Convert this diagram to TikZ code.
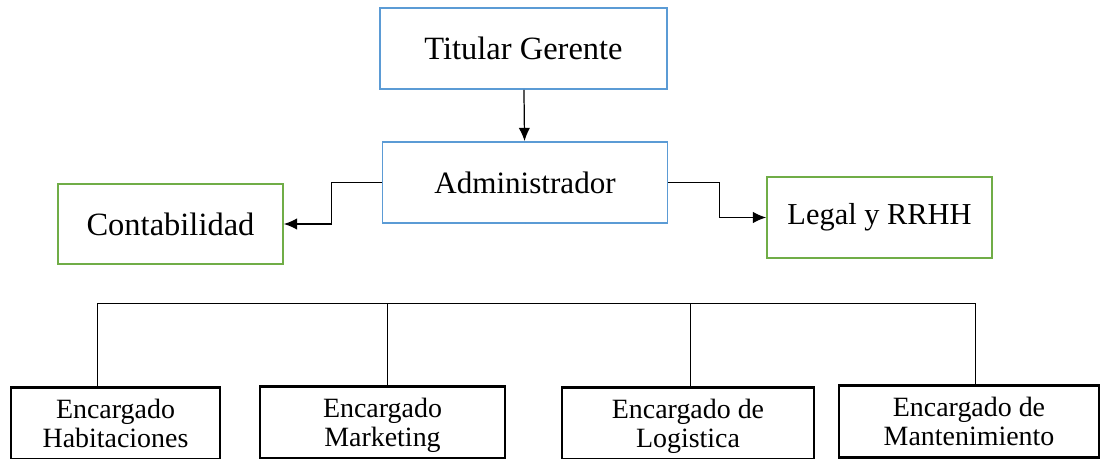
\documentclass[tikz,border=0pt]{standalone}
\usepackage{fontspec}
\setmainfont{Liberation Serif}
\usetikzlibrary{arrows.meta}
\definecolor{jefeblue}{RGB}{91,155,213}
\definecolor{apoyogreen}{RGB}{112,173,71}

\begin{document}
\begin{tikzpicture}
[x=0.02cm,y=-0.02cm,-,thin,%
  every node/.style={shape=rectangle,draw,align=center,inner sep=2pt},%
  jefe/.style={jefeblue,line width=1.1pt,text=black},%
  apoyo/.style={apoyogreen,line width=1.1pt,text=black},%
  encargado/.style={black,line width=1.6pt,anchor=north,inner ysep=0.24cm,
    font=\fontsize{15.9}{16.5}\selectfont},%
  >={Latex[length=7.5pt,width=6.5pt]}]
\useasboundingbox (0,0) rectangle (1102,459);
\clip (0,0) rectangle (1102,459);
\node[jefe,minimum width=5.74cm,minimum height=1.62cm,font=\fontsize{18.5}{22}\selectfont]
  (titular) at (523.5,48.5) {Titular Gerente};
\node[jefe,minimum width=5.7cm,minimum height=1.62cm,font=\fontsize{17.7}{22}\selectfont]
  (admin) at (525,182.5) {Administrador};
\node[apoyo,minimum width=4.5cm,minimum height=1.6cm,font=\fontsize{18.5}{22}\selectfont]
  (conta) at (170.5,224) {Contabilidad};
\node[apoyo,minimum width=4.5cm,minimum height=1.62cm,font=\fontsize{17.3}{22}\selectfont]
  (legal) at (879.5,217.5) {Legal y RRHH};
\node[encargado,minimum width=4.18cm] (habit) at (115.5,386) {Encargado\\\smash{Habitaciones}};
\node[encargado,minimum width=4.9cm] (marke) at (382.5,385) {Encargado\\\smash{Marketing}};
\node[encargado,minimum width=5.04cm] (logis) at (688,386) {Encargado de\\\smash{Logistica}};
\node[encargado,minimum width=5.2cm] (mante) at (969,384) {Encargado de\\\smash{Mantenimiento}};
\coordinate (bus) at (525,303);
\path
(titular) edge[->,line width=0.7pt] (admin);
\draw[->,line width=0.6pt] (admin.west) -- ++(-50,0) |- (conta.east);
\draw[->,line width=0.6pt] (admin.east) -- ++(51,0) |- (legal.west);
\draw[double,line width=0.4pt,double distance=0.7pt] (admin.south) -- (bus);
\draw[line width=0.5pt] (bus) -| ([xshift=-0.36cm]habit.north);
\draw[line width=0.5pt] (bus) -| ([xshift=0.09cm]marke.north);
\draw[line width=0.5pt] (bus) -| ([xshift=0.05cm]logis.north);
\draw[line width=0.5pt] (bus) -| ([xshift=0.13cm]mante.north);
\end{tikzpicture}
\end{document}
